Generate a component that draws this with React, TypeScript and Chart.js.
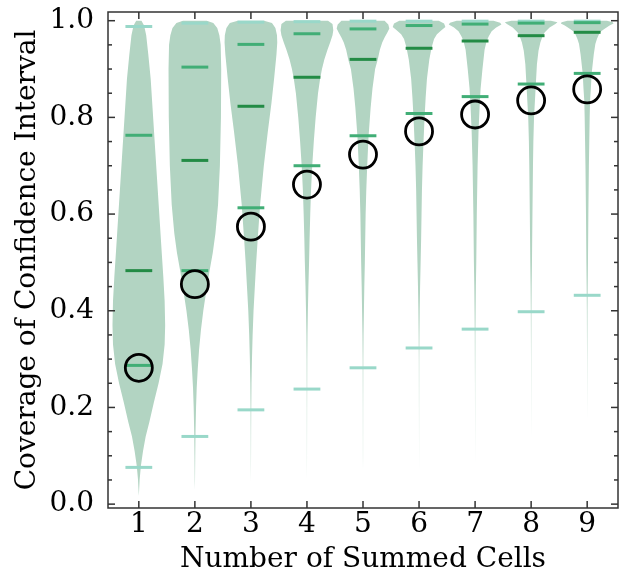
import React, { useEffect, useRef } from "react";
import { Chart, registerables } from "chart.js";
Chart.register(...registerables);

const categories = ["1", "2", "3", "4", "5", "6", "7", "8", "9"];
const yTickValues = [0, 0.2, 0.4, 0.6, 0.8, 1.0];
const yTickLabels = ["0.0", "0.2", "0.4", "0.6", "0.8", "1.0"];

const means = [0.282, 0.455, 0.574, 0.661, 0.723, 0.771, 0.806, 0.835, 0.858];
const upperExtreme = [0.988, 0.995, 0.997, 0.998, 0.999, 0.999, 0.999, 0.999, 0.999];
const upperQuantile = [0.763, 0.904, 0.951, 0.973, 0.983, 0.99, 0.993, 0.995, 0.996];
const medians = [0.483, 0.711, 0.823, 0.883, 0.92, 0.943, 0.958, 0.969, 0.976];
const lowerQuantile = [0.287, 0.483, 0.613, 0.7, 0.762, 0.808, 0.843, 0.869, 0.891];
const lowerExtreme = [0.076, 0.14, 0.195, 0.238, 0.282, 0.323, 0.362, 0.398, 0.432];

// violin density profiles: [coverage value, relative half-width]
const violin1 = [[1.0,0.1],[0.99,0.2],[0.97,0.28],[0.93,0.36],[0.88,0.45],[0.82,0.52],[0.76,0.59],[0.7,0.66],[0.64,0.73],[0.58,0.8],[0.52,0.87],[0.47,0.93],[0.42,0.98],[0.37,1.0],[0.33,0.98],[0.29,0.9],[0.25,0.75],[0.21,0.57],[0.17,0.4],[0.14,0.26],[0.11,0.16],[0.08,0.08],[0.05,0.03],[0.03,0.012],[0.017,0]];
const violin2 = [[1.0,0.45],[0.995,0.7],[0.985,0.85],[0.97,0.93],[0.95,0.98],[0.9,1.0],[0.8,0.99],[0.7,0.95],[0.62,0.88],[0.56,0.78],[0.52,0.68],[0.48,0.55],[0.44,0.43],[0.4,0.32],[0.36,0.23],[0.32,0.16],[0.28,0.11],[0.24,0.07],[0.2,0.045],[0.15,0.025],[0.1,0.014],[0.05,0.006],[0.03,0]];
const violin3 = [[1.0,0.5],[0.995,0.8],[0.985,0.93],[0.97,0.99],[0.955,1.0],[0.93,0.97],[0.88,0.88],[0.83,0.78],[0.77,0.64],[0.7,0.49],[0.62,0.35],[0.55,0.26],[0.5,0.2],[0.45,0.15],[0.4,0.1],[0.35,0.065],[0.3,0.04],[0.25,0.022],[0.2,0.013],[0.15,0.008],[0.1,0.005],[0.045,0]];
const violin4 = [[1.0,0.8],[0.993,0.97],[0.98,1.0],[0.97,0.97],[0.955,0.88],[0.94,0.78],[0.92,0.66],[0.9,0.57],[0.88,0.5],[0.85,0.42],[0.8,0.33],[0.75,0.26],[0.7,0.2],[0.65,0.155],[0.6,0.125],[0.55,0.1],[0.5,0.08],[0.45,0.055],[0.4,0.035],[0.35,0.02],[0.3,0.012],[0.2,0.006],[0.1,0.003],[0.05,0]];
const violin5 = [[1.0,0.82],[0.992,0.96],[0.984,1.0],[0.975,0.92],[0.965,0.82],[0.955,0.73],[0.94,0.64],[0.92,0.56],[0.9,0.46],[0.86,0.36],[0.82,0.29],[0.76,0.21],[0.7,0.16],[0.65,0.125],[0.6,0.1],[0.5,0.07],[0.45,0.05],[0.4,0.035],[0.35,0.02],[0.3,0.012],[0.2,0.006],[0.1,0.003],[0.07,0]];
const violin6 = [[1.0,0.75],[0.994,0.95],[0.987,1.0],[0.98,0.85],[0.972,0.68],[0.962,0.57],[0.945,0.48],[0.92,0.39],[0.88,0.3],[0.84,0.25],[0.8,0.21],[0.75,0.17],[0.7,0.135],[0.65,0.11],[0.6,0.095],[0.55,0.08],[0.5,0.06],[0.45,0.04],[0.4,0.025],[0.35,0.015],[0.3,0.008],[0.2,0.004],[0.07,0]];
const violin7 = [[1.0,0.7],[0.996,0.95],[0.992,1.0],[0.986,0.8],[0.978,0.63],[0.968,0.52],[0.958,0.44],[0.94,0.36],[0.9,0.28],[0.86,0.21],[0.82,0.17],[0.77,0.13],[0.7,0.095],[0.6,0.065],[0.5,0.045],[0.45,0.03],[0.4,0.02],[0.35,0.012],[0.25,0.005],[0.08,0]];
const violin8 = [[1.0,0.75],[0.997,1.0],[0.993,0.92],[0.986,0.7],[0.976,0.52],[0.969,0.44],[0.955,0.35],[0.938,0.28],[0.91,0.22],[0.87,0.18],[0.83,0.14],[0.8,0.11],[0.75,0.085],[0.7,0.07],[0.6,0.05],[0.5,0.032],[0.45,0.02],[0.4,0.012],[0.3,0.005],[0.13,0]];
const violin9 = [[1.0,0.75],[0.997,0.97],[0.994,1.0],[0.99,0.85],[0.983,0.65],[0.976,0.48],[0.962,0.37],[0.952,0.31],[0.93,0.25],[0.891,0.17],[0.86,0.14],[0.835,0.11],[0.8,0.095],[0.75,0.08],[0.7,0.065],[0.6,0.045],[0.5,0.03],[0.45,0.02],[0.4,0.012],[0.3,0.005],[0.17,0]];
const violinProfiles = [violin1, violin2, violin3, violin4, violin5, violin6, violin7, violin8, violin9];

const HALF_WIDTH = 0.47;
const FILL = "#b2d4c2";
const LIGHT = "#99d8c9";
const MID = "#41ae76";
const DARK = "#238b45";
const AXIS = "#333333";
const FONT = "'DejaVu Serif', serif";

const violinPlugin = {
  id: "violins",
  beforeDatasetsDraw(chart: any) {
    const { ctx, chartArea: a, scales } = chart;
    const x = scales.x, y = scales.y;
    ctx.save();
    ctx.beginPath();
    ctx.rect(a.left, a.top, a.right - a.left, a.bottom - a.top);
    ctx.clip();
    ctx.fillStyle = FILL;
    violinProfiles.forEach((prof, i) => {
      const c = i + 1;
      ctx.beginPath();
      prof.forEach(([v, w], k) => {
        const px = x.getPixelForValue(c - w * HALF_WIDTH);
        const py = y.getPixelForValue(v);
        if (k === 0) ctx.moveTo(px, py);
        else ctx.lineTo(px, py);
      });
      for (let k = prof.length - 1; k >= 0; k--) {
        const [v, w] = prof[k];
        ctx.lineTo(x.getPixelForValue(c + w * HALF_WIDTH), y.getPixelForValue(v));
      }
      ctx.closePath();
      ctx.fill();
    });
    ctx.restore();
  },
};

const framePlugin = {
  id: "frame",
  afterDraw(chart: any) {
    const { ctx, chartArea: a, scales } = chart;
    const x = scales.x, y = scales.y;
    const MAJ = 7, MIN = 4;
    ctx.save();
    ctx.strokeStyle = AXIS;
    ctx.lineWidth = 1.5;
    ctx.strokeRect(a.left, a.top, a.right - a.left, a.bottom - a.top);
    const seg = (x1: number, y1: number, x2: number, y2: number) => {
      ctx.beginPath();
      ctx.moveTo(x1, y1);
      ctx.lineTo(x2, y2);
      ctx.stroke();
    };
    for (let k = 0; k <= 20; k++) {
      const v = k * 0.05;
      const len = k % 4 === 0 ? MAJ : MIN;
      const py = y.getPixelForValue(v);
      seg(a.left, py, a.left + len, py);
      seg(a.right, py, a.right - len, py);
    }
    categories.forEach((_, i) => {
      const px = x.getPixelForValue(i + 1);
      seg(px, a.bottom, px, a.bottom - MAJ);
      seg(px, a.top, px, a.top + MAJ);
    });
    ctx.restore();
  },
};

const toPoints = (arr: number[]) => arr.map((v, i) => ({ x: i + 1, y: v }));

const lineSet = (arr: number[], color: string) => ({
  type: "scatter" as const,
  data: toPoints(arr),
  pointStyle: "line",
  pointRadius: 13.4,
  pointHoverRadius: 13.4,
  borderWidth: 3,
  borderColor: color,
  backgroundColor: color,
});

export default function App() {
  const ref = useRef<HTMLCanvasElement>(null);
  useEffect(() => {
    if (!ref.current) return;
    const chart = new Chart(ref.current, {
      type: "scatter",
      data: {
        datasets: [
          {
            data: toPoints(means),
            pointStyle: "circle",
            pointRadius: 13.5,
            pointHoverRadius: 13.5,
            borderWidth: 2.8,
            borderColor: "#000000",
            backgroundColor: "rgba(0,0,0,0)",
          },
          lineSet(medians, DARK),
          lineSet(upperQuantile, MID),
          lineSet(lowerQuantile, MID),
          lineSet(upperExtreme, LIGHT),
          lineSet(lowerExtreme, LIGHT),
        ] as any,
      },
      options: {
        animation: false,
        responsive: false,
        devicePixelRatio: 1,
        layout: { autoPadding: false, padding: { top: 12, right: 5, left: 0, bottom: 0 } },
        plugins: { legend: { display: false }, tooltip: { enabled: false } },
        events: [],
        scales: {
          x: {
            type: "linear",
            min: 0.45,
            max: 9.55,
            afterBuildTicks: (s: any) => {
              s.ticks = categories.map((_, i) => ({ value: i + 1 }));
            },
            afterFit: (s: any) => {
              s.height = 73;
              s.paddingLeft = 0;
              s.paddingRight = 0;
            },
            grid: { display: false, drawTicks: false },
            border: { display: false },
            ticks: {
              padding: 0,
              color: "#000",
              font: { family: FONT, size: 28 },
              callback: (v: any) => categories[Math.round(v) - 1] ?? "",
            },
            title: {
              display: true,
              text: "Number of Summed Cells",
              color: "#000",
              font: { family: FONT, size: 28 },
              padding: { top: 0, bottom: 4 },
            },
          },
          y: {
            type: "linear",
            min: -0.008,
            max: 1.018,
            afterBuildTicks: (s: any) => {
              s.ticks = yTickValues.map((v) => ({ value: v }));
            },
            afterFit: (s: any) => {
              s.width = 108;
              s.paddingTop = 0;
              s.paddingBottom = 0;
            },
            grid: { display: false, drawTicks: false },
            border: { display: false },
            ticks: {
              padding: 14,
              color: "#000",
              font: { family: FONT, size: 28 },
              callback: (v: any) => {
                const idx = yTickValues.findIndex((t) => Math.abs(t - v) < 1e-6);
                return idx >= 0 ? yTickLabels[idx] : "";
              },
            },
            title: {
              display: true,
              text: "Coverage of Confidence Interval",
              color: "#000",
              font: { family: FONT, size: 28 },
              padding: { top: 11, bottom: 0 },
            },
          },
        },
      },
      plugins: [violinPlugin, framePlugin],
    });
    return () => chart.destroy();
  }, []);
  return (
    <div style={{ position: "fixed", left: 0, top: 0, width: 623, height: 581, background: "#fff" }}>
      <canvas ref={ref} width={623} height={581} style={{ display: "block", width: 623, height: 581 }} />
    </div>
  );
}
